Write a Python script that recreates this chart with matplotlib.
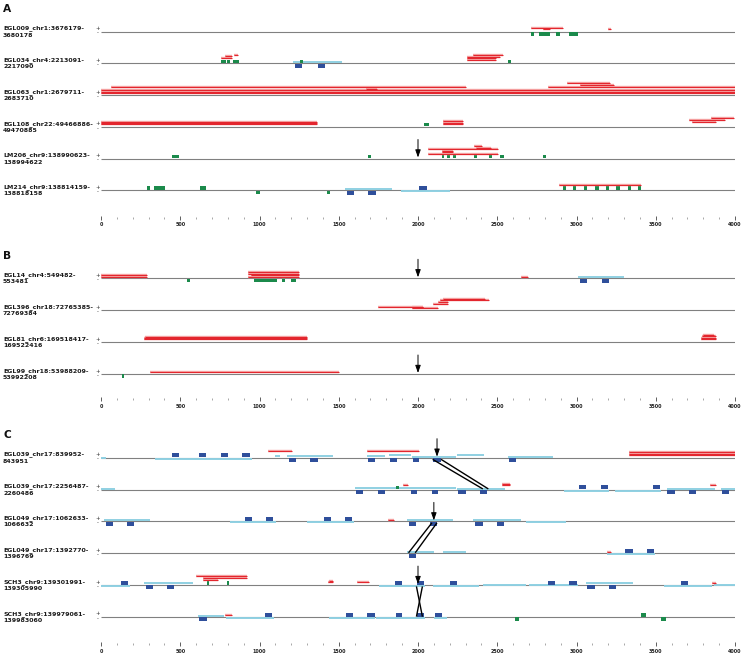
import matplotlib
matplotlib.use('Agg')
import matplotlib.pyplot as plt
from matplotlib.patches import Rectangle
from matplotlib.ticker import MultipleLocator

plt.rcParams['font.family'] = ['DejaVu Sans']
plt.rcParams['font.weight'] = 'bold'

# ---------------- panel A ----------------
a_labels = ['EGL009_chr1:3676179-\n3680178', 'EGL034_chr4:2213091-\n2217090',
            'EGL063_chr1:2679711-\n2683710', 'EGL108_chr22:49466886-\n49470885',
            'LM206_chr9:138990623-\n138994622', 'LM214_chr9:138814159-\n138818158']
# reads: (row, start, end, stack level in px above the line)
a_reads = [(0, 2712, 2912, 4.0), (0, 2790, 2832, 2.4), (0, 3196, 3215, 2.4),
           (1, 755, 824, 5.6), (1, 782, 824, 7.0), (1, 841, 862, 8.6),
           (1, 2345, 2534, 8.3), (1, 2310, 2515, 6.8), (1, 2310, 2490, 5.3), (1, 2310, 2490, 3.8),
           (2, 0, 4000, 1.8), (2, 0, 4000, 3.3), (2, 0, 4000, 4.8),
           (2, 63, 2300, 8.3), (2, 2821, 4000, 8.3), (2, 1670, 1739, 6.6),
           (2, 3021, 3236, 10.0), (2, 2943, 3210, 11.7),
           (3, 0, 1360, 2.6), (3, 0, 1360, 4.0), (3, 0, 1360, 5.2),
           (3, 2159, 2285, 2.5), (3, 2159, 2285, 4.0), (3, 2159, 2285, 5.5),
           (3, 3730, 3877, 5.0), (3, 3709, 3936, 6.7), (3, 3848, 3995, 8.7),
           (4, 2064, 2502, 5.0), (4, 2149, 2222, 6.5), (4, 2149, 2222, 7.8),
           (4, 2064, 2502, 9.3), (4, 2369, 2458, 11.0), (4, 2354, 2401, 12.6),
           (5, 2889, 3410, 5.3)]
a_green = [(0, 2712, 2735, '-'), (0, 2762, 2834, '-'), (0, 2870, 2893, '-'), (0, 2952, 3012, '-'),
           (1, 757, 786, '+'), (1, 793, 814, '+'), (1, 834, 868, '+'), (1, 1255, 1276, '+'),
           (1, 2565, 2588, '+'), (3, 2039, 2071, '+'),
           (4, 450, 494, '+'), (4, 1682, 1701, '+'), (4, 2149, 2165, '+'), (4, 2182, 2201, '+'),
           (4, 2220, 2239, '+'), (4, 2354, 2373, '+'), (4, 2451, 2470, '+'), (4, 2518, 2540, '+'),
           (4, 2786, 2807, '+'),
           (5, 292, 307, '+'), (5, 336, 404, '+'), (5, 624, 662, '+'), (5, 978, 1001, '-'),
           (5, 1424, 1443, '-'), (5, 2912, 2933, '+'), (5, 2979, 3000, '+'), (5, 3048, 3069, '+'),
           (5, 3118, 3139, '+'), (5, 3187, 3208, '+'), (5, 3252, 3273, '+'), (5, 3322, 3343, '+'),
           (5, 3389, 3410, '+')]
a_blue = [(1, 1225, 1270, '-'), (1, 1367, 1413, '-'),
          (5, 1549, 1596, '-'), (5, 1682, 1733, '-'), (5, 2008, 2054, '+')]
# transcripts: (row, start, end, offset in px above the line)
a_cyan = [(1, 1213, 1522, 1.3), (5, 1539, 1833, 1.3), (5, 1894, 2201, -1.0)]
a_arrows = [(4, 2000)]
a_links = []

# ---------------- panel B ----------------
b_labels = ['EGL14_chr4:549482-\n553481', 'EGL396_chr18:72765385-\n72769384',
            'EGL81_chr6:169518417-\n169522416', 'EGL99_chr18:53988209-\n53992208']
b_reads = [(0, 0, 288, 1.8), (0, 0, 288, 3.1),
           (0, 929, 1249, 1.8), (0, 945, 1249, 3.2), (0, 929, 1249, 4.6), (0, 929, 1249, 5.9),
           (0, 2649, 2697, 1.5),
           (1, 1749, 2033, 3.7), (1, 1960, 2127, 2.3), (1, 1960, 2033, 3.0), (1, 2096, 2190, 6.3),
           (1, 2127, 2190, 8.0), (1, 2138, 2447, 10.0), (1, 2159, 2422, 11.3),
           (2, 271, 1301, 3.0), (2, 271, 1301, 4.3), (2, 280, 1301, 5.6),
           (2, 3784, 3883, 3.0), (2, 3784, 3883, 4.4), (2, 3790, 3883, 5.8), (2, 3800, 3870, 7.0),
           (3, 309, 1501, 2.0)]
b_green = [(0, 542, 563, '-'), (0, 967, 1110, '-'), (0, 1140, 1161, '-'), (0, 1198, 1228, '-'),
           (3, 130, 145, '-')]
b_blue = [(0, 3021, 3069, '-'), (0, 3158, 3204, '-')]
b_cyan = [(0, 3010, 3299, 1.3)]
b_arrows = [(0, 2000), (3, 2000)]
b_links = []

# ---------------- panel C ----------------
c_labels = ['EGL039_chr17:839952-\n843951', 'EGL039_chr17:2256487-\n2260486',
            'EGL049_chr17:1062633-\n1066632', 'EGL049_chr17:1392770-\n1396769',
            'SCH3_chr9:139301991-\n139305990', 'SCH3_chr9:139979061-\n139983060']
c_reads = [(0, 1051, 1203, 6.4), (0, 1676, 2008, 6.2),
           (0, 3330, 4000, 2.6), (0, 3330, 4000, 4.0), (0, 3330, 4000, 5.4),
           (1, 1907, 1938, 4.7), (1, 2527, 2580, 4.3), (1, 2527, 2580, 5.5), (1, 3841, 3877, 4.3),
           (2, 1812, 1848, 1.8),
           (3, 3193, 3215, 1.0),
           (4, 599, 923, 8.7), (4, 645, 919, 7.0), (4, 645, 740, 5.4),
           (4, 1432, 1465, 2.8), (4, 1440, 1465, 4.0), (4, 1613, 1690, 2.7), (4, 3855, 3877, 2.4),
           (5, 784, 828, 1.7)]
c_green = [(1, 1859, 1880, '+'), (4, 666, 681, '+'), (4, 793, 809, '+'),
           (5, 2611, 2638, '-'), (5, 3410, 3437, '+'), (5, 3530, 3564, '-')]
c_blue = [(0, 450, 494, '+'), (0, 618, 664, '+'), (0, 755, 801, '+'), (0, 891, 938, '+'),
          (0, 1184, 1230, '-'), (0, 1320, 1367, '-'), (0, 1682, 1728, '-'), (0, 1823, 1865, '-'),
          (0, 1966, 2008, '-'), (0, 2096, 2142, '-'), (0, 2571, 2618, '-'),
          (1, 1608, 1654, '-'), (1, 1749, 1791, '-'), (1, 1953, 1995, '-'), (1, 2086, 2127, '-'),
          (1, 2253, 2300, '-'), (1, 2390, 2437, '-'), (1, 3017, 3063, '+'), (1, 3153, 3200, '+'),
          (1, 3480, 3526, '+'), (1, 3574, 3620, '-'), (1, 3709, 3755, '-'), (1, 3919, 3965, '-'),
          (2, 32, 78, '-'), (2, 166, 210, '-'), (2, 908, 954, '+'), (2, 1041, 1087, '+'),
          (2, 1406, 1451, '+'), (2, 1539, 1585, '+'), (2, 1943, 1989, '-'), (2, 2075, 2121, '-'),
          (2, 2361, 2407, '-'), (2, 2496, 2542, '-'),
          (3, 1943, 1989, '-'), (3, 3307, 3354, '+'), (3, 3442, 3488, '+'),
          (4, 126, 172, '+'), (4, 284, 328, '-'), (4, 416, 462, '-'), (4, 1854, 1900, '+'),
          (4, 1991, 2037, '+'), (4, 2203, 2248, '+'), (4, 2821, 2867, '+'), (4, 2954, 3000, '+'),
          (4, 3069, 3116, '-'), (4, 3202, 3248, '-'), (4, 3658, 3704, '+'),
          (5, 620, 667, '-'), (5, 1034, 1080, '+'), (5, 1543, 1587, '+'), (5, 1680, 1726, '+'),
          (5, 1859, 1900, '+'), (5, 1991, 2037, '+'), (5, 2107, 2153, '+')]
c_cyan = [(0, 0, 32, -0.7), (0, 341, 950, -1.3), (0, 1097, 1129, 1.7), (0, 1175, 1465, 1.7),
          (0, 1676, 1791, 1.3), (0, 1816, 1953, 2.3), (0, 1960, 2239, 0.7), (0, 2247, 2416, 2.7),
          (0, 2565, 2853, 1.0),
          (1, 0, 88, 1.0), (1, 1602, 2239, 2.0), (1, 2243, 2548, 1.0), (1, 2922, 3206, -1.0),
          (1, 3246, 3536, -1.0), (1, 3568, 3873, 1.0), (1, 3909, 4000, 1.0),
          (2, 21, 309, 1.3), (2, 814, 1102, -1.0), (2, 1301, 1596, -0.7), (2, 1932, 2222, 1.7),
          (2, 2348, 2649, 1.7), (2, 2681, 2933, -0.7),
          (3, 1932, 2100, 1.0), (3, 2159, 2300, 1.0), (3, 3193, 3498, -1.0),
          (4, 0, 183, -0.5), (4, 271, 578, 2.0), (4, 1755, 2044, -0.5), (4, 2096, 2384, -0.5),
          (4, 2407, 2681, -0.3), (4, 2698, 3010, -0.3), (4, 3059, 3357, 2.0), (4, 3555, 3852, -0.7),
          (4, 3868, 4000, -0.3),
          (5, 610, 778, 1.3), (5, 786, 1091, -1.0), (5, 1438, 1728, -1.0), (5, 1738, 2044, -0.7),
          (5, 2102, 2184, -0.7)]
c_arrows = [(0, 2120), (2, 2100), (4, 2000)]
# split-read links: (row, x, other row, other x)
c_links = [(0, 2096, 1, 2405), (0, 2149, 1, 2440),
           (2, 2085, 3, 1943), (2, 2117, 3, 1985),
           (4, 1991, 5, 2027), (4, 2027, 5, 1991)]

RED, PINK = '#e3262e', '#f5a5a5'
GREEN, BLUE, CYAN = '#1b8a4b', '#2f4f9b', '#8fd0e2'

W, H = 745, 656
fig = plt.figure(figsize=(W / 100, H / 100), dpi=100)


def draw_panel(letter, letter_y, top, y0, gap, axis_y,
               labels, reads, green, blue, cyan, arrows, links):
    ax = fig.add_axes([101 / W, 1 - axis_y / H, 634 / W, (axis_y - top) / H])
    ax.patch.set_visible(False)
    ax.set_xlim(0, 4000)
    ax.set_ylim(axis_y, top)
    for sp in ax.spines.values():
        sp.set_visible(False)
    ax.set_yticks([])
    ax.xaxis.set_major_locator(MultipleLocator(500))
    ax.xaxis.set_minor_locator(MultipleLocator(100))
    ax.tick_params(axis='x', which='major', direction='inout', length=3, width=0.6,
                   color='#444444', labelcolor='#222222', labelsize=3.5, pad=1.6)
    ax.tick_params(axis='x', which='minor', direction='inout', length=0.9, width=0.6,
                   color='#999999')

    base = [y0 + i * gap for i in range(len(labels))]
    fig.text(3 / W, 1 - letter_y / H, letter, fontsize=7.7, va='baseline', color='#111111')
    for y, lab in zip(base, labels):
        ax.hlines(y, 0, 4000, color='#808080', lw=0.8, zorder=1)
        fig.text(3 / W, 1 - y / H, lab, fontsize=4.5, va='center', ha='left',
                 linespacing=1.33, color='#1a1a1a')
        fig.text(98 / W, 1 - (y - 0.75) / H, '+\n-', fontsize=3.8, ha='center', va='center',
                 linespacing=0.87, color='#333333', fontweight='normal')

    for r, s, e, off in cyan:
        ax.hlines(base[r] - off, s, e, color=CYAN, lw=1.4, zorder=2)
    for r, s, e, st in blue:
        y = base[r] - 4.3 if st == '+' else base[r] + 0.3
        ax.add_patch(Rectangle((s, y), e - s, 4.0, facecolor=BLUE, edgecolor='none', zorder=3))
    for r, s, e, st in green:
        y = base[r] - 3.9 if st == '+' else base[r] + 0.3
        ax.add_patch(Rectangle((s, y), e - s, 3.6, facecolor=GREEN, edgecolor='none', zorder=3))
    for r, s, e, lev in reads:
        ax.hlines(base[r] - lev, s, e, color=PINK, lw=1.7, zorder=4)
    for r, s, e, lev in reads:
        ax.hlines(base[r] - lev, s, e, color=RED, lw=0.8, zorder=5)
    for r1, x1, r2, x2 in links:
        ax.plot([x1, x2], [base[r1] + 2, base[r2] - 1], color='black', lw=1.0, zorder=6,
                clip_on=False)
    for r, x in arrows:
        ax.annotate('', xy=(x, base[r] - 1), xytext=(x, base[r] - 19),
                    arrowprops=dict(arrowstyle='-|>,head_length=0.45,head_width=0.16',
                                    color='black', lw=0.7, shrinkA=0, shrinkB=0,
                                    mutation_scale=10),
                    annotation_clip=False, zorder=7)
    return ax


draw_panel('A', 11.7, 3, 31.7, 31.7, 218.0,
           a_labels, a_reads, a_green, a_blue, a_cyan, a_arrows, a_links)
draw_panel('B', 259.3, 250, 278.3, 31.9, 399.3,
           b_labels, b_reads, b_green, b_blue, b_cyan, b_arrows, b_links)
draw_panel('C', 438.3, 430, 457.7, 31.85, 644.3,
           c_labels, c_reads, c_green, c_blue, c_cyan, c_arrows, c_links)

fig.savefig('out.png', dpi=100)
